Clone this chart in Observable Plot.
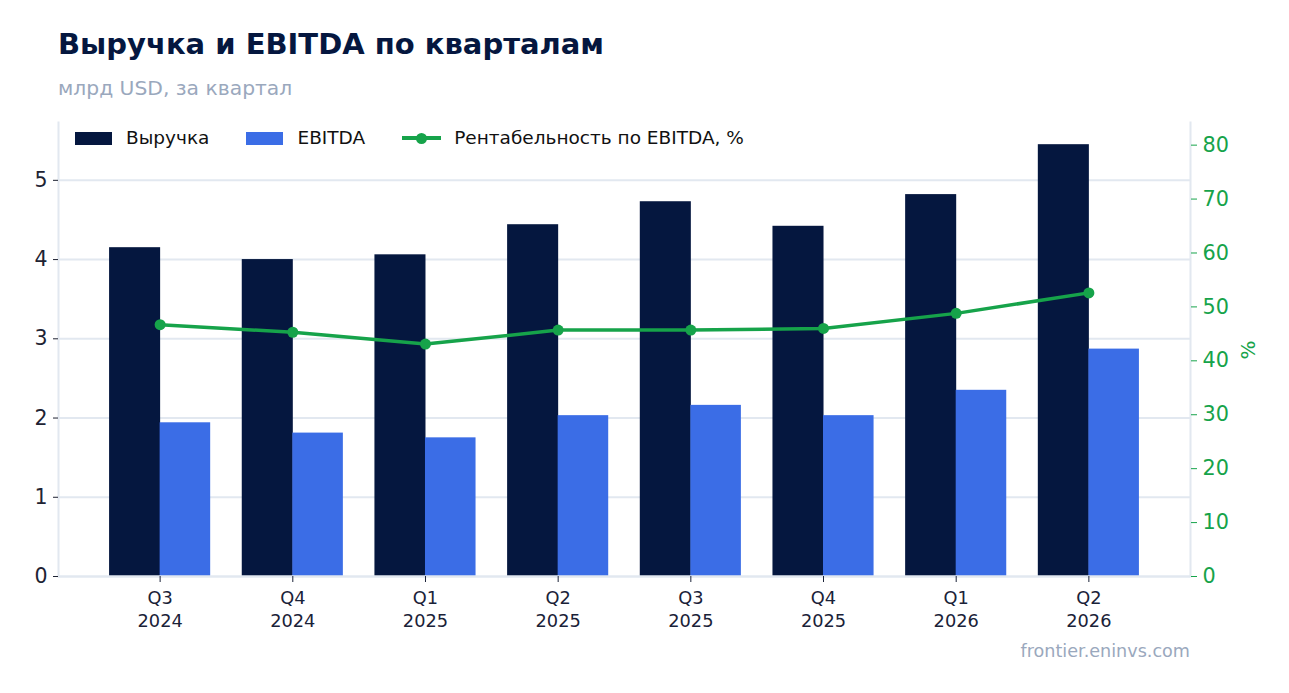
<!DOCTYPE html>
<html>
<head>
<meta charset="utf-8">
<script src="https://cdn.jsdelivr.net/npm/d3@7"></script>
<script src="https://cdn.jsdelivr.net/npm/@observablehq/plot@0.6"></script>
<style>
  html, body { margin: 0; padding: 0; background: #fff; }
  body { width: 1289px; height: 693px; position: relative; font-family: "DejaVu Sans", sans-serif; overflow: hidden; }
  #chart { position: absolute; left: 0; top: 0; }
  .abs { position: absolute; white-space: nowrap; line-height: 1; }
  #title { left: 58px; top: 30px; font-size: 29px; font-weight: bold; color: #05173f; }
  #subtitle { left: 58px; top: 78px; font-size: 20.3px; color: #9aa8bd; }
  #caption { right: 99px; top: 643px; font-size: 17.6px; color: #9aa8bd; }
  #legend { left: 75px; top: 129px; font-size: 18.5px; color: #111; display: flex; align-items: center; }
  .item { display: flex; align-items: center; margin-right: 37px; }
  .sw { width: 37px; height: 13px; margin-right: 14px; }
  .ln { width: 39px; height: 4px; background: #16a34a; position: relative; margin-right: 13px; }
  .ln::after { content: ""; position: absolute; left: 14px; top: -3.5px; width: 11px; height: 11px; border-radius: 50%; background: #16a34a; }
  #pct { left: 1238px; top: 340px; font-size: 20px; color: #16a34a; transform: rotate(-90deg); transform-origin: center; }
</style>
</head>
<body>
<div id="chart"></div>
<div id="title" class="abs">Выручка и EBITDA по кварталам</div>
<div id="subtitle" class="abs">млрд USD, за квартал</div>
<div id="legend" class="abs">
  <div class="item"><div class="sw" style="background:#05173f"></div>Выручка</div>
  <div class="item"><div class="sw" style="background:#3b6de6"></div>EBITDA</div>
  <div class="item"><div class="ln"></div>Рентабельность по EBITDA, %</div>
</div>
<div id="pct" class="abs">%</div>
<div id="caption" class="abs">frontier.eninvs.com</div>
<script>
// ---- data ----
const quarters = ["Q3 2024", "Q4 2024", "Q1 2025", "Q2 2025", "Q3 2025", "Q4 2025", "Q1 2026", "Q2 2026"];
const revenue  = [4.15, 4.00, 4.06, 4.44, 4.73, 4.42, 4.82, 5.45];
const ebitda   = [1.94, 1.81, 1.75, 2.03, 2.16, 2.03, 2.35, 2.87];
const margin   = [46.7, 45.3, 43.1, 45.7, 45.7, 46.0, 48.8, 52.6];
const leftTicks  = [0, 1, 2, 3, 4, 5];
const rightTicks = [0, 10, 20, 30, 40, 50, 60, 70, 80];
const leftMax = 5.73, rightMax = 84.2;

// ---- layout ----
const W = 1289, H = 640;
const mL = 58, mR = 99, mT = 122, mB = 64;
const pIn = 0.238, pOut = 0.385;
const step = (W - mL - mR) / (quarters.length - pIn + 2 * pOut);
const half = step * (1 - pIn) / 2;
const k = leftMax / rightMax;

const rows = quarters.map((q, i) => ({q, rev: revenue[i], ebitda: ebitda[i], m: margin[i] * k}));

const navy = "#05173f", blue = "#3b6de6", green = "#16a34a", grid = "#e2e8f0";

const chart = Plot.plot({
  width: W, height: H,
  marginLeft: mL, marginRight: mR, marginTop: mT, marginBottom: mB,
  style: {fontFamily: "DejaVu Sans, sans-serif", background: "transparent"},
  x: {domain: quarters, paddingInner: pIn, paddingOuter: pOut, align: 0.5, round: false},
  y: {domain: [0, leftMax]},
  marks: [
    Plot.gridY(leftTicks.filter(d => d > 0), {stroke: grid, strokeOpacity: 1, strokeWidth: 2}),
    Plot.frame({anchor: "left", stroke: grid, strokeWidth: 2}),
    Plot.frame({anchor: "right", stroke: grid, strokeWidth: 2}),
    Plot.barY(rows, {x: "q", y: "rev", fill: navy, insetLeft: 0, insetRight: half - 0.5}),
    Plot.barY(rows, {x: "q", y: "ebitda", fill: blue, insetLeft: half, insetRight: 0}),
    Plot.ruleY([0], {stroke: grid, strokeWidth: 2.5}),
    Plot.line(rows, {x: "q", y: "m", stroke: green, strokeWidth: 3.5}),
    Plot.dot(rows, {x: "q", y: "m", fill: green, r: 5.5}),
    Plot.axisY({anchor: "left", ticks: leftTicks, tickFormat: d => String(d), tickSize: 5, tickPadding: 6, fontSize: 20.5, label: null, color: "#1e2333"}),
    Plot.axisY({anchor: "right", ticks: rightTicks.map(v => v * k), tickFormat: d => String(Math.round(d / k)), tickSize: 6, tickPadding: 6, fontSize: 20.8, label: null, color: green}),
    Plot.axisX({ticks: quarters, tickFormat: d => d.replace(" ", "\n"), tickSize: 6, tickPadding: 6, fontSize: 17.8, lineHeight: 1.25, label: null, color: "#1a2238"})
  ]
});
document.getElementById("chart").appendChild(chart);
</script>
</body>
</html>
